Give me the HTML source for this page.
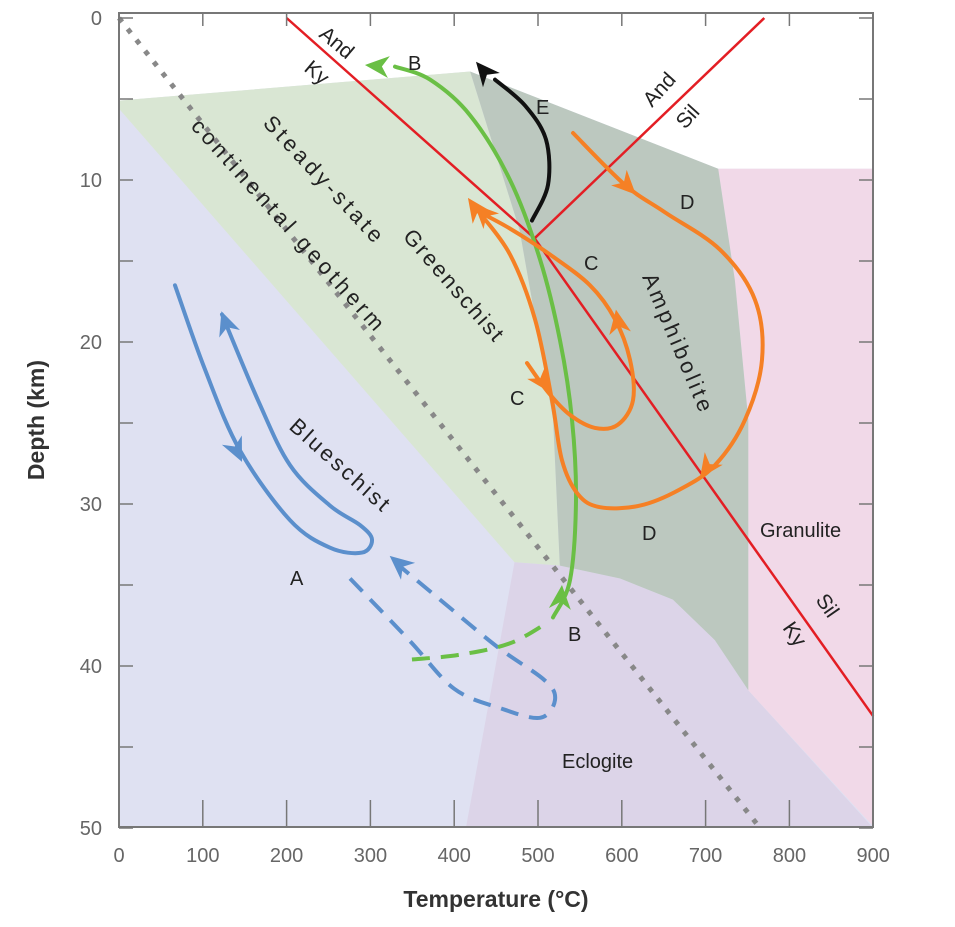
<!DOCTYPE html>
<html><head><meta charset="utf-8"><style>
html,body{margin:0;padding:0;background:#fff;}
svg{display:block;font-family:"Liberation Sans",sans-serif;}
</style></head><body>
<svg id="chart" width="955" height="927" viewBox="0 0 955 927" xmlns="http://www.w3.org/2000/svg"></svg>
<script>
// ---- data (Temperature °C, Depth km) ----
const xTicks = [0,100,200,300,400,500,600,700,800,900];
const yTicks = [0,10,20,30,40,50];
const geotherm = [[0,0],[765,50]];
const andKy = [[200,0],[496,13.6]];
const andSil = [[496,13.6],[770,0]];
const kySil = [[496,13.6],[900,43.1]];
const blueschistZone = [[0,5.1],[419,3.3],[715,9.3],[900,9.3],[900,50],[0,50]];
const greenschistZone = [[0,5.1],[419,3.3],[478,13.1],[518,24.8],[526,33.8],[472,33.6],[0,5.6]];
const amphiboliteZone = [[419,3.3],[715,9.3],[735,16.2],[751,24.8],[751,41.5],[711,38.4],[661,35.9],[598,34.6],[526,33.8],[518,24.8],[478,13.1]];
const granuliteZone = [[715,9.3],[900,9.3],[900,49.9],[751,41.5],[751,24.8],[735,16.2]];
const eclogiteZone = [[472,33.6],[526,33.8],[598,34.6],[661,35.9],[711,38.4],[751,41.5],[900,50],[414,50]];
const pathA = [[66.8,16.5],[102.6,21.7],[144.4,26.7],[204,31],[251.8,32.7],[290,33],[301.9,32.2],[287.6,31.3],[251.8,30.1],[204,27.6],[165.9,23.6],[122.9,18.3]];
const pathADashed = [[275.7,34.6],[346.2,38.4],[399.9,41.4],[454.7,42.6],[502.4,43.2],[520.3,42.1],[508.4,40.9],[451.1,38.8],[383.1,35.9],[329.4,33.6]];
const pathBDashed = [[349.6,39.6],[406.9,39.3],[466.6,38.6],[511.9,37.3]];
const pathB = [[517.9,37.0],[538.2,34.7],[545.3,29.8],[540.6,24.8],[526.3,19.9],[502.4,14.9],[466.6,10],[418.9,6],[371.1,3.8],[329.4,3.0]];
const pathE = [[492.8,12.5],[511.9,10.3],[509.5,7.5],[484.5,5.4],[448.7,3.8]];
const pathD = [[541.8,7.1],[603.8,10.3],[651.6,12],[717.2,14.3],[758.9,17.4],[767.3,21.1],[747,24.8],[711.2,27.6],[669.5,29.1],[621.7,30.1],[574,30.2],[547.7,29.4],[528.6,27.3],[516.7,23.6],[496.4,18.6],[466.6,14.6],[428.4,11.9]];
const pathC = [[486.9,21.3],[512,23.1],[538.2,24.5],[568,25.3],[595.5,25.1],[613.4,23.6],[609.8,21.1],[591.9,18.6],[562.1,16.5],[514.3,14.6],[466.6,13],[430.8,12]];

const X = t => 119 + t*0.838;
const Y = d => 18 + d*16.2;
const NS = "http://www.w3.org/2000/svg";
const svg = document.getElementById('chart');
function el(tag, attrs, parent){
  const e = document.createElementNS(NS, tag);
  for (const k in attrs) e.setAttribute(k, attrs[k]);
  (parent||svg).appendChild(e); return e;
}
const pts = a => a.map(p => X(p[0]).toFixed(1)+','+Y(p[1]).toFixed(1)).join(' ');
function smooth(a){
  const P = a.map(p=>[X(p[0]),Y(p[1])]);
  let d = 'M'+P[0][0]+','+P[0][1];
  for (let i=0;i<P.length-1;i++){
    const p0=P[i-1]||P[i], p1=P[i], p2=P[i+1], p3=P[i+2]||p2;
    const c1=[p1[0]+(p2[0]-p0[0])/6, p1[1]+(p2[1]-p0[1])/6];
    const c2=[p2[0]-(p3[0]-p1[0])/6, p2[1]-(p3[1]-p1[1])/6];
    d+=' C'+c1[0].toFixed(1)+','+c1[1].toFixed(1)+' '+c2[0].toFixed(1)+','+c2[1].toFixed(1)+' '+p2[0].toFixed(1)+','+p2[1].toFixed(1);
  }
  return d;
}

let z;
z = el('polygon',{points:pts(blueschistZone),fill:'#dfe1f2'});


z = el('polygon',{points:pts(greenschistZone),fill:'#d9e6d3'});


z = el('polygon',{points:pts(eclogiteZone),fill:'#dcd4e8'});


z = el('polygon',{points:pts(granuliteZone),fill:'#f1d9e8'});


z = el('polygon',{points:pts(amphiboliteZone),fill:'#bcc8bf'});



z = el('polyline',{points:pts(geotherm),fill:'none',stroke:'#888','stroke-width':5,'stroke-dasharray':'5 9'});



[[andKy,'and-ky-line'],[andSil,'and-sil-line'],[kySil,'ky-sil-line']].forEach(r=>{
  const l = el('polyline',{points:pts(r[0]),fill:'none',stroke:'#e31e24','stroke-width':2.5});
  
  
});

function drawPath(a,color,name,dash){
  const p = el('path',{d:smooth(a),fill:'none',stroke:color,'stroke-width':4,'stroke-linecap':dash?'butt':'round'});
  if (dash) p.setAttribute('stroke-dasharray','18 11');
  
  
}
drawPath(pathA,'#5b8fcc','path-a',false);
drawPath(pathADashed,'#5b8fcc','path-a-dashed',true);
drawPath(pathBDashed,'#6abf45','path-b-dashed',true);
drawPath(pathB,'#6abf45','path-b',false);
drawPath(pathE,'#111','path-e',false);
drawPath(pathD,'#f58025','path-d',false);
drawPath(pathC,'#f58025','path-c',false);

function arrow(t,d,ang,color,name){
  const a = el('polygon',{points:'0,0 -24,-11 -17,0 -24,11',fill:color,transform:'translate('+X(t)+','+Y(d)+') rotate('+ang+')'});
  
  
}
arrow(122.2,18.1,-110,'#5b8fcc','arrow-a-up');
arrow(146.8,27.4,65,'#5b8fcc','arrow-a-down');
arrow(323,33.2,-140,'#5b8fcc','arrow-a-dashed');
arrow(528.6,35.0,-85,'#6abf45','arrow-b-bottom');
arrow(293.5,2.9,185,'#6abf45','arrow-b-top');
arrow(426,2.7,-130,'#111','arrow-e');
arrow(416.4,11.1,-125,'#f58025','arrow-c-top');
arrow(424,11.5,-135,'#f58025','arrow-d-top');
arrow(514.3,23.1,55,'#f58025','arrow-c-left');
arrow(593,18.0,-100,'#f58025','arrow-c-right');
arrow(616.8,10.9,45,'#f58025','arrow-d-entry');
arrow(693.3,28.4,125,'#f58025','arrow-d-right');

z = el('rect',{x:119,y:13,width:754,height:814,fill:'none',stroke:'#777','stroke-width':2});


xTicks.forEach(t=>{
  if (t>0 && t<900){
    el('line',{x1:X(t),x2:X(t),y1:827,y2:800,stroke:'#777','stroke-width':1.5});
    el('line',{x1:X(t),x2:X(t),y1:13,y2:26,stroke:'#777','stroke-width':1.5});
  }
  const tx = el('text',{x:X(t),y:862,'text-anchor':'middle','font-size':20,fill:'#666'});
  tx.textContent = t;
  
  
});
yTicks.forEach(d=>{
  el('line',{x1:119,x2:133,y1:Y(d),y2:Y(d),stroke:'#777','stroke-width':1.5});
  el('line',{x1:873,x2:859,y1:Y(d),y2:Y(d),stroke:'#777','stroke-width':1.5});
  if (d<50){
    el('line',{x1:119,x2:133,y1:Y(d+5),y2:Y(d+5),stroke:'#777','stroke-width':1.5});
    el('line',{x1:873,x2:859,y1:Y(d+5),y2:Y(d+5),stroke:'#777','stroke-width':1.5});
  }
  const tx = el('text',{x:102,y:Y(d)+7,'text-anchor':'end','font-size':20,fill:'#666'});
  tx.textContent = d;
  
  
});
</script>
<svg style="position:absolute;left:0;top:0" width="955" height="927">
<g font-family="Liberation Sans, sans-serif" font-size="20" fill="#222">
<text x="496" y="907" text-anchor="middle" font-size="23" font-weight="bold" fill="#333">Temperature (°C)</text>
<text transform="translate(44,420) rotate(-90)" text-anchor="middle" font-size="23" font-weight="bold" fill="#333">Depth (km)</text>
<text font-size="21" transform="translate(318,36) rotate(40)">And</text>
<text font-size="21" transform="translate(303,70) rotate(40)">Ky</text>
<text x="408" y="70">B</text>
<text x="536" y="114">E</text>
<text font-size="21" transform="translate(652,108) rotate(-48)">And</text>
<text font-size="21" transform="translate(685,130) rotate(-48)">Sil</text>
<text x="680" y="209">D</text>
<text x="584" y="270">C</text>
<text x="510" y="405">C</text>
<text x="642" y="540">D</text>
<text x="290" y="585">A</text>
<text x="568" y="641">B</text>
<text font-size="22" textLength="148" lengthAdjust="spacing" transform="translate(642,277) rotate(67)">Amphibolite</text>
<text font-size="22" textLength="140" lengthAdjust="spacing" transform="translate(402,237) rotate(49)">Greenschist</text>
<text font-size="22" textLength="164" lengthAdjust="spacing" transform="translate(262,124) rotate(47)">Steady-state</text>
<text font-size="22" textLength="276" lengthAdjust="spacing" transform="translate(190,127) rotate(48)">continental geotherm</text>
<text font-size="22" textLength="126" lengthAdjust="spacing" transform="translate(288,428) rotate(42)">Blueschist</text>
<text x="760" y="537">Granulite</text>
<text x="562" y="768">Eclogite</text>
<text font-size="21" transform="translate(815,600) rotate(55)">Sil</text>
<text font-size="21" transform="translate(782,628) rotate(55)">Ky</text>
</g>
</svg>
</body></html>
